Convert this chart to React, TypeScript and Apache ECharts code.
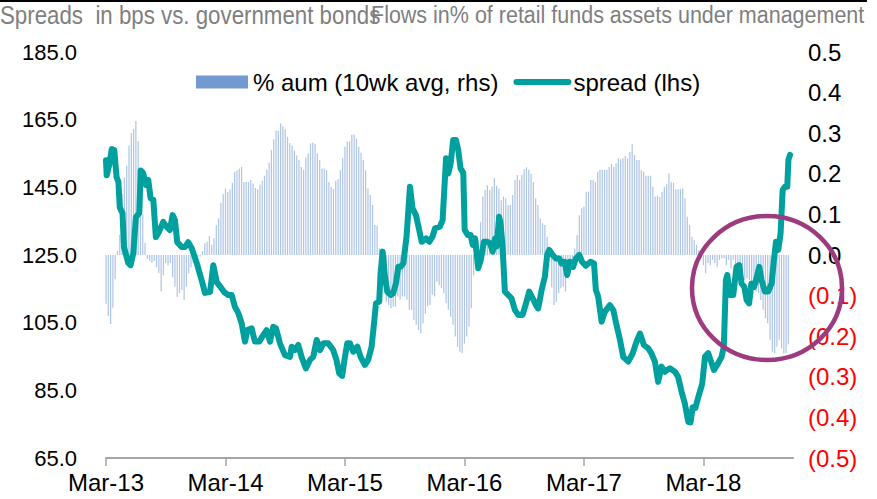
import React, { useEffect, useRef } from "react";
import * as echarts from "echarts";

// Weekly flows, % of AUM (10wk avg), from week 0 = Mar-13
const flowValues: number[] = [
  -0.12, -0.15, -0.17, -0.13, -0.06, 0.01, 0.05, 0.15, 0.19, 0.22,
  0.27, 0.3, 0.31, 0.33, 0.28, 0.2, 0.1, 0.03, -0.01, -0.015,
  -0.02, -0.015, -0.03, -0.045, -0.09, -0.05, -0.02, -0.025, -0.02, -0.055,
  -0.078, -0.103, -0.094, -0.086, -0.111, -0.078, -0.045, -0.03, -0.02, -0.008,
  -0.004, -0.004, 0.01, 0.029, 0.033, 0.047, 0.025, 0.041, 0.074, 0.09,
  0.128, 0.15, 0.164, 0.155, 0.162, 0.178, 0.205, 0.208, 0.213, 0.217,
  0.18, 0.18, 0.18, 0.185, 0.176, 0.165, 0.162, 0.173, 0.183, 0.195,
  0.21, 0.228, 0.259, 0.285, 0.306, 0.306, 0.324, 0.317, 0.31, 0.291,
  0.275, 0.27, 0.257, 0.245, 0.234, 0.217, 0.21, 0.24, 0.25, 0.275,
  0.277, 0.274, 0.25, 0.234, 0.213, 0.213, 0.209, 0.18, 0.168, 0.163,
  0.183, 0.187, 0.209, 0.238, 0.267, 0.279, 0.28, 0.296, 0.297, 0.287,
  0.267, 0.252, 0.234, 0.209, 0.164, 0.148, 0.123, 0.074, 0.072, 0.017,
  0.004, -0.053, -0.115, -0.123, -0.131, -0.127, -0.127, -0.102, -0.11, -0.102,
  -0.102, -0.11, -0.135, -0.135, -0.16, -0.172, -0.185, -0.193, -0.168, -0.144,
  -0.127, -0.123, -0.098, -0.102, -0.066, -0.074, -0.082, -0.094, -0.119, -0.135,
  -0.152, -0.172, -0.201, -0.226, -0.238, -0.242, -0.218, -0.201, -0.177, -0.131,
  -0.05, 0.01, 0.037, 0.082, 0.144, 0.16, 0.172, 0.16, 0.168, 0.189,
  0.17, 0.164, 0.135, 0.144, 0.14, 0.123, 0.123, 0.148, 0.185, 0.197,
  0.185, 0.197, 0.211, 0.216, 0.21, 0.2, 0.18, 0.14, 0.123, 0.09,
  0.078, 0.074, 0.045, 0.016, -0.08, -0.123, -0.115, -0.094, -0.082, -0.078,
  -0.09, -0.057, -0.045, -0.02, 0.016, 0.049, 0.098, 0.115, 0.119, 0.156,
  0.156, 0.185, 0.185, 0.18, 0.205, 0.21, 0.21, 0.21, 0.21, 0.217,
  0.224, 0.217, 0.226, 0.238, 0.236, 0.238, 0.244, 0.238, 0.254, 0.273,
  0.246, 0.234, 0.234, 0.209, 0.205, 0.195, 0.195, 0.195, 0.168, 0.144,
  0.146, 0.142, 0.156, 0.168, 0.174, 0.201, 0.18, 0.178, 0.162, 0.162,
  0.162, 0.164, 0.14, 0.094, 0.074, 0.045, 0.037, 0.025, 0.012, -0.008,
  -0.025, -0.045, -0.02, -0.025, -0.012, -0.02, -0.029, -0.012, -0.008, -0.008,
  -0.025, -0.012, -0.033, -0.012, -0.025, -0.025, -0.037, -0.041, -0.062, -0.057,
  -0.062, -0.062, -0.078, -0.09, -0.094, -0.111, -0.135, -0.156, -0.168, -0.209,
  -0.238, -0.242, -0.226, -0.209, -0.23, -0.242, -0.242, -0.22,
];

// Spread (bps) readings: week position and value
const spreadWeeks: number[] = [
  0, 0.3, 1.4, 2.5, 3.6, 4.6, 5.4, 6, 7.2, 7.8, 9.7, 10.7, 11.9, 13, 14.5, 15.1, 16.2, 17.4, 18.4, 19.4,
  20.6, 21.7, 22.8, 24.9, 26.4, 27.8, 29, 30, 31, 32.9, 34.4, 35.8, 37.3, 39.5, 41.6, 43.1, 45.3, 46.7, 48.2, 49.9,
  51.5, 53.2, 54.7, 56.1, 57.6, 59, 60.5, 61.5, 63.4, 64.8, 66.7, 68.5, 69.9, 71.4, 72.8, 74, 75.7, 77.9, 80.1, 80.8,
  82.2, 83.7, 85.1, 87, 88.8, 90.2, 91.7, 93.1, 94.6, 96.7, 98.9, 100.3, 101.5, 102.8, 103.8, 105, 106.2, 107.6, 109.4, 110.8,
  112.7, 114.1, 115.6, 116.8, 117.5, 118.9, 119.5, 120.4, 121.4, 122.4, 123.9, 125, 126.2, 127.2, 128.2, 129.4, 130.8, 132.3, 133.4, 134.9,
  136.3, 137.4, 139.3, 140.7, 142.1, 143.2, 145.3, 146.5, 148, 149, 150, 151.1, 152.3, 153.3, 154.3, 155.5, 156.1, 157.5, 158.7, 159.6,
  160.6, 162, 163.1, 164.5, 166, 167.1, 168.3, 169.3, 170, 171.1, 171.7, 172.6, 173.6, 175, 176.5, 178, 179.4, 181.3, 182.8, 184.2,
  185.7, 187.1, 188.1, 189.6, 191, 192, 192.9, 194.4, 195.8, 197.3, 198.3, 199.7, 200.7, 201.9, 203.3, 204.5, 206, 207.2, 208.8, 210.9,
  212.4, 213.2, 214.2, 215.7, 217.1, 219.3, 220.8, 222.2, 223.7, 225.1, 227.3, 229.2, 230.9, 232.4, 234.1, 236, 237.4, 238.9, 240.3, 241.8,
  243.3, 244.2, 245.4, 247.6, 249, 250.5, 251.9, 253.4, 254.4, 255.3, 256.5, 258, 259.5, 260.7, 262.1, 263.1, 264.6, 266, 267.9, 268.9,
  269.8, 270.4, 271.5, 273, 274.4, 275.6, 276.6, 277.8, 278.8, 279.9, 280.9, 282.1, 283.1, 284.3, 285.3, 286.8, 288.2, 289.7, 290.7, 291.6,
  292.6, 293.6, 294.5, 295.5, 296.5, 297, 297.7,
];
const spreadValues: number[] = [
  153, 148.6, 151.6, 156.3, 156, 148, 146.6, 139, 137.4, 127.4, 122.6, 122, 125.6, 136.2, 137.4, 150, 149.2, 145.7, 147.2, 141.8,
  141.3, 130.3, 131.5, 134.8, 133.3, 132.4, 136.8, 135.3, 128.8, 127.4, 127.4, 128.8, 127, 122.6, 117.6, 113.8, 114.1, 122, 117, 115.5,
  114, 113.2, 113.2, 109.7, 107.8, 104.9, 99.4, 102.8, 103.3, 99.4, 99.4, 101.4, 102.8, 99.4, 103.8, 103.3, 98.9, 95.4, 94.9, 97.9,
  96.9, 98.4, 94.9, 91.5, 94, 94.9, 99.9, 96.9, 98.9, 98.9, 96.9, 94, 90, 89.3, 94, 98.9, 98.9, 96.4, 97.9, 94.9,
  92.5, 94, 97.9, 105.8, 110.7, 111.2, 119.6, 126, 118.6, 114.2, 113.2, 113.7, 116.6, 121.5, 121.5, 122.5, 130.4, 145.2, 138.8, 136.8,
  132.4, 128.9, 129.9, 128.9, 130.4, 132.9, 133.4, 135.3, 153.6, 149.1, 152.1, 159, 159, 156, 150.6, 149.3, 132.4, 130.9, 130.9, 128,
  129.9, 121.1, 123.5, 128.9, 128.9, 128.5, 126, 129.9, 127.5, 136.3, 134.4, 127.5, 114.2, 113.2, 112.2, 108.7, 107.3, 107.3, 110.7, 114.2,
  112.2, 110.2, 109.2, 114.7, 118.6, 125, 126.5, 125, 124, 124, 122.5, 123, 119.1, 123, 121.5, 124, 125, 123, 121.8, 123,
  122.5, 114.7, 112.7, 105.3, 108.2, 110.2, 108.7, 104.3, 99.9, 94.9, 93.5, 95.9, 99.4, 101.8, 98.4, 97.4, 95.9, 93.5, 87.5, 92,
  90.5, 91, 91.5, 90.5, 89, 84.6, 81.2, 75.7, 75.5, 80, 79.8, 83.5, 87, 95, 96, 94, 91, 92.5, 94.9, 97.9,
  117.6, 119.1, 113.2, 113.2, 121.5, 122, 116.6, 115.6, 111.7, 110.7, 116.6, 115.6, 118.1, 121.5, 117.6, 114.2, 114.2, 116.6, 123.5, 128.9,
  126.5, 131.4, 144.2, 145.2, 145.2, 153.1, 154.6,
];

const leftTicks: number[] = [65, 85, 105, 125, 145, 165, 185];
const rightTicks: number[] = [-0.5, -0.4, -0.3, -0.2, -0.1, 0, 0.1, 0.2, 0.3, 0.4, 0.5];
const xTickWeeks: number[] = [0, 52, 104, 156, 208, 260];
const xTickLabels: string[] = ["Mar-13", "Mar-14", "Mar-15", "Mar-16", "Mar-17", "Mar-18"];

const FLOW_NAME = "% aum (10wk avg, rhs)";
const SPREAD_NAME = "spread (lhs)";
const FONT = "Liberation Sans, Arial, sans-serif";

export default function App() {
  const ref = useRef<HTMLDivElement>(null);

  useEffect(() => {
    if (!ref.current) return;
    const chart = echarts.init(ref.current, undefined, { renderer: "svg" });
    const option: any = {
      animation: false,
      textStyle: { fontFamily: FONT },
      grid: { left: 106, right: 84, top: 52, bottom: 41, containLabel: false, outerBoundsMode: "none" },
      legend: {
        left: 191,
        top: 65,
        itemWidth: 52,
        itemHeight: 13,
        itemGap: 15,
        textStyle: { fontSize: 24, color: "#000", fontFamily: FONT },
        data: [
          { name: FLOW_NAME, icon: "rect", itemStyle: { color: "#7399d0" } },
          {
            name: SPREAD_NAME,
            itemStyle: { opacity: 0, borderWidth: 0 },
            lineStyle: { width: 6, color: "#00a09f" },
          },
        ],
      },
      xAxis: {
        type: "value",
        min: 0,
        max: 299,
        splitLine: { show: false },
        axisLine: { show: true, onZero: false, lineStyle: { color: "#a6a6a6", width: 2 } },
        axisTick: {
          show: true,
          customValues: xTickWeeks,
          length: 8,
          lineStyle: { color: "#a6a6a6", width: 1.5 },
        },
        axisLabel: {
          customValues: xTickWeeks,
          formatter: (v: number) => {
            const i = xTickWeeks.indexOf(Math.round(v));
            return i >= 0 ? xTickLabels[i] : "";
          },
          fontSize: 24,
          color: "#000",
          margin: 12,
          fontFamily: FONT,
        },
      },
      yAxis: [
        {
          type: "value",
          min: 65,
          max: 185,
          position: "left",
          splitLine: { show: false },
          axisLine: { show: false },
          axisTick: { show: false },
          axisLabel: {
            customValues: leftTicks,
            formatter: (v: number) => v.toFixed(1),
            fontSize: 22,
            color: "#000",
            margin: 29,
            fontFamily: FONT,
          },
        },
        {
          type: "value",
          min: -0.5,
          max: 0.5,
          position: "right",
          splitLine: { show: false },
          axisLine: { show: false },
          axisTick: { show: false },
          axisLabel: {
            customValues: rightTicks,
            formatter: (v: number) => {
              const r = Math.round(v * 10) / 10;
              return r < 0 ? "(" + Math.abs(r).toFixed(1) + ")" : Math.abs(r).toFixed(1);
            },
            color: (v: any) => (Number(v) < -1e-9 ? "#ff0000" : "#000000"),
            fontSize: 24,
            margin: 15,
            fontFamily: FONT,
          },
        },
      ],
      series: [
        {
          name: FLOW_NAME,
          type: "bar",
          yAxisIndex: 1,
          barWidth: 1.2,
          itemStyle: { color: "#adc4e5" },
          data: flowValues.map((v, i) => [i, v]),
        },
        {
          name: SPREAD_NAME,
          type: "line",
          yAxisIndex: 0,
          symbol: "none",
          color: "#00a09f",
          lineStyle: { width: 6, color: "#00a09f", cap: "round", join: "round" },
          data: spreadWeeks.map((w, i) => [w, spreadValues[i]]),
          z: 3,
        },
      ],
      graphic: [
        {
          type: "line",
          shape: { x1: 0, y1: 1, x2: 867, y2: 1 },
          style: { stroke: "#000", lineWidth: 2 },
        },
        {
          type: "text",
          x: 0,
          y: 17,
          scaleY: 1.15,
          originY: 17,
          style: {
            text: "Spreads  in bps vs. government bonds",
            fill: "#7f7f7f",
            fontSize: 22.3,
            fontFamily: FONT,
            verticalAlign: "middle",
          },
        },
        {
          type: "text",
          x: 371,
          y: 17,
          scaleY: 1.15,
          originY: 17,
          style: {
            text: "Flows in% of retail funds assets under management",
            fill: "#7f7f7f",
            fontSize: 21.5,
            fontFamily: FONT,
            verticalAlign: "middle",
          },
        },
        {
          type: "ellipse",
          z: 100,
          shape: { cx: 767, cy: 288, rx: 75, ry: 72 },
          style: { fill: "none", stroke: "#9c3c7f", lineWidth: 4.5 },
        },
      ],
    };
    chart.setOption(option);
    return () => chart.dispose();
  }, []);

  return (
    <div
      ref={ref}
      style={{ position: "fixed", left: 0, top: 0, width: 877, height: 499, background: "#fff" }}
    />
  );
}
